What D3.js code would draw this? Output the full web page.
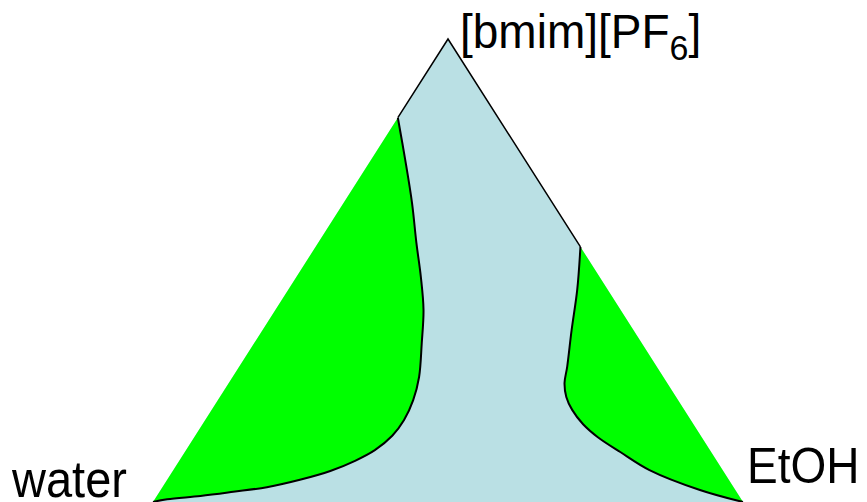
<!DOCTYPE html>
<html>
<head>
<meta charset="utf-8">
<script src="https://cdn.jsdelivr.net/npm/d3@7"></script>
<style>
  html, body { margin: 0; padding: 0; background: #ffffff; }
  svg { display: block; }
  text { font-family: "Liberation Sans", Arial, sans-serif; fill: #000; }
</style>
</head>
<body>
<svg id="chart" width="867" height="502"></svg>
<script>
// Ternary compositions: il = [bmim][PF6] fraction, etoh = EtOH fraction, water = 1 - il - etoh
const vertexLabels = ["water", "[bmim][PF", "EtOH"];
// Binodal curve on the water-rich side (from the water/IL edge down to the water corner)
const leftIL   = [0.830, 0.739, 0.646, 0.559, 0.486, 0.415, 0.343, 0.270, 0.220, 0.177, 0.143, 0.112, 0.089, 0.067, 0.048, 0.032, 0.022, 0.013, 0.006, 0.000];
const leftEtOH = [0.000, 0.058, 0.116, 0.167, 0.211, 0.251, 0.284, 0.316, 0.331, 0.337, 0.334, 0.320, 0.298, 0.267, 0.225, 0.177, 0.125, 0.074, 0.021, 0.000];
// Binodal curve on the EtOH-rich side (from the IL/EtOH edge down to the EtOH corner)
const rightIL   = [0.551, 0.458, 0.371, 0.292, 0.257, 0.227, 0.199, 0.168, 0.140, 0.108, 0.069, 0.026, 0.000];
const rightEtOH = [0.449, 0.490, 0.524, 0.556, 0.569, 0.587, 0.611, 0.645, 0.684, 0.738, 0.807, 0.914, 1.000];

const svg = d3.select("#chart");
// Cartesian mapping: x = etoh + il/2, y = il
const x = d3.scaleLinear().domain([0, 1]).range([153, 743]);
const y = d3.scaleLinear().domain([0, 1]).range([502, 39]);
const px = d => x(d.etoh + d.il / 2);
const py = d => y(d.il);

const leftPts = leftIL.map((v, i) => ({ il: v, etoh: leftEtOH[i] }));
const rightPts = rightIL.map((v, i) => ({ il: v, etoh: rightEtOH[i] }));
const corners = [{ il: 0, etoh: 0 }, { il: 1, etoh: 0 }, { il: 0, etoh: 1 }];

const polyLine = d3.line().x(px).y(py);
const curveLine = d3.line().x(px).y(py).curve(d3.curveCatmullRom.alpha(0.5));

// Triangle (one-phase region)
svg.append("path")
  .attr("d", polyLine(corners) + "Z")
  .attr("fill", "#bae0e4")
  .attr("stroke", "none");

// Two-phase regions
svg.append("path")
  .attr("d", curveLine(leftPts) + "Z")
  .attr("fill", "#00ff00")
  .attr("stroke", "none");
svg.append("path")
  .attr("d", curveLine(rightPts) + "Z")
  .attr("fill", "#00ff00")
  .attr("stroke", "none");

// Binodal curves
svg.append("path").attr("d", curveLine(leftPts)).attr("fill", "none")
  .attr("stroke", "#000").attr("stroke-width", 2);
svg.append("path").attr("d", curveLine(rightPts)).attr("fill", "none")
  .attr("stroke", "#000").attr("stroke-width", 2);

// Triangle outline over the one-phase part
svg.append("path")
  .attr("d", polyLine([leftPts[0], corners[1], rightPts[0]]))
  .attr("fill", "none").attr("stroke", "#000").attr("stroke-width", 1.5)
  .attr("stroke-linejoin", "miter");

// Vertex labels (slightly tall letterforms, as in the reference)
svg.append("text")
  .attr("transform", `translate(${x(0) - 141},497) scale(1,1.09)`)
  .attr("font-size", 47).text(vertexLabels[0]);

const apexLabel = svg.append("text")
  .attr("transform", `translate(${px(corners[1]) + 12},48) scale(1,1.05)`)
  .attr("font-size", 46);
apexLabel.append("tspan").text(vertexLabels[1]);
apexLabel.append("tspan").attr("font-size", 34).attr("dy", 11).text("6");
apexLabel.append("tspan").attr("dy", -11).text("]");

svg.append("text")
  .attr("transform", `translate(${x(1) + 4},483) scale(1,1.09)`)
  .attr("font-size", 46).text(vertexLabels[2]);
</script>
</body>
</html>
